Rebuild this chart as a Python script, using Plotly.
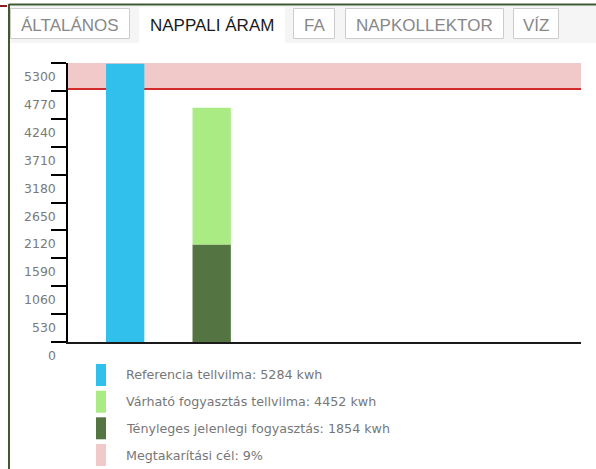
import plotly.graph_objects as go

# ---------------- data ----------------
tabs = ["ÁLTALÁNOS", "NAPPALI ÁRAM", "FA", "NAPKOLLEKTOR", "VÍZ"]
active_tab = "NAPPALI ÁRAM"
categories = ["Referencia", "Tényleges"]
reference_kwh = [5284, None]
actual_kwh = [None, 1854]
expected_kwh = [None, 4452]
savings_pct = 9
y_max = 5300
y_ticks = [0, 530, 1060, 1590, 2120, 2650, 3180, 3710, 4240, 4770, 5300]
legend_labels = [
    f"Referencia tellvilma: {reference_kwh[0]} kwh",
    f"Várható fogyasztás tellvilma: {expected_kwh[1]} kwh",
    f"Tényleges jelenlegi fogyasztás: {actual_kwh[1]} kwh",
    f"Megtakarítási cél: {savings_pct}%",
]

# ---------------- styles ----------------
C_BLUE = "#31c0ec"
C_LIGHT = "#aaeb84"
C_DARK = "#547541"
C_PINK = "#f2c9c9"
C_RED = "#d42a2a"
legend_colors = [C_BLUE, C_LIGHT, C_DARK, C_PINK]
TXT_FONT = "DejaVu Sans, Verdana"

W, H = 596, 469
L, R, T, B = 68, 15, 63, 127
PW, PH = W - L - R, H - T - B


def px(x):
    return (x - L) / PW


def py(y):
    return (H - B - y) / PH


target = reference_kwh[0] * (1 - savings_pct / 100)

fig = go.Figure()
fig.add_trace(go.Bar(x=categories, y=reference_kwh, marker_color=C_BLUE,
                     width=0.443, marker_line_width=0, showlegend=False))
fig.add_trace(go.Bar(x=categories, y=actual_kwh, marker_color=C_DARK,
                     width=0.443, marker_line_width=0, showlegend=False))
fig.add_trace(go.Bar(x=categories,
                     y=[None, expected_kwh[1] - actual_kwh[1]],
                     base=[None, actual_kwh[1]], marker_color=C_LIGHT,
                     width=0.443, marker_line_width=0, showlegend=False))

shapes = []
annotations = []

# savings target band + line
shapes.append(dict(type="rect", xref="paper", yref="y", x0=0, x1=1,
                   y0=target, y1=y_max, fillcolor=C_PINK, line_width=0,
                   layer="below"))
shapes.append(dict(type="line", xref="paper", yref="y", x0=0, x1=1,
                   y0=target, y1=target, line=dict(color=C_RED, width=2),
                   layer="below"))

# tab strip
shapes.append(dict(type="rect", xref="paper", yref="paper",
                   x0=px(10), x1=px(W + 5), y0=py(5.5), y1=py(43),
                   fillcolor="#f5f5f5", line_width=0))
tab_boxes = [(10, 130), (139, 285), (293, 335), (345, 504), (513, 559)]
for name, (x0, x1) in zip(tabs, tab_boxes):
    if name == active_tab:
        shapes.append(dict(type="rect", xref="paper", yref="paper",
                           x0=px(x0), x1=px(x1), y0=py(7), y1=py(43),
                           fillcolor="white", line_width=0))
        col = "#1a1a1a"
    else:
        shapes.append(dict(type="rect", xref="paper", yref="paper",
                           x0=px(x0 + 0.5), x1=px(x1 - 0.5), y0=py(8.5), y1=py(38.5),
                           fillcolor="white", line=dict(color="#cccccc", width=1)))
        col = "#888888"
    annotations.append(dict(text=name, xref="paper", yref="paper",
                            x=px((x0 + x1) / 2), y=py(25), xanchor="center",
                            yanchor="middle", showarrow=False,
                            font=dict(family="Liberation Sans, Arial", size=17,
                                      color=col)))

# frame
shapes.append(dict(type="line", xref="paper", yref="paper",
                   x0=px(9), x1=px(W + 5), y0=py(4.5), y1=py(4.5),
                   line=dict(color="#3f5a33", width=2)))
shapes.append(dict(type="line", xref="paper", yref="paper",
                   x0=px(9), x1=px(9), y0=py(4), y1=py(H + 5),
                   line=dict(color="#3f5a33", width=2)))
shapes.append(dict(type="line", xref="paper", yref="paper",
                   x0=px(0), x1=px(7), y0=py(6), y1=py(6),
                   line=dict(color="#8b1e1e", width=2)))

# y tick labels (drawn half a step below their ticks)
for v in y_ticks:
    annotations.append(dict(text=str(v), xref="paper", yref="y", x=px(58),
                            y=v, yshift=-13.5, xanchor="right", yanchor="middle",
                            showarrow=False,
                            font=dict(family=TXT_FONT, size=12.5,
                                      color="#7a7a7a")))

# legend
row_centers = [375, 401.7, 428.3, 455]
for lab, col, yc in zip(legend_labels, legend_colors, row_centers):
    shapes.append(dict(type="rect", xref="paper", yref="paper",
                       x0=px(96), x1=px(106), y0=py(yc - 11), y1=py(yc + 11),
                       fillcolor=col, line_width=0))
    annotations.append(dict(text=lab, xref="paper", yref="paper", x=px(124),
                            y=py(yc), xanchor="left", yanchor="middle",
                            showarrow=False,
                            font=dict(family=TXT_FONT, size=12.7,
                                      color="#777777")))

fig.update_layout(
    width=W, height=H,
    margin=dict(l=L, r=R, t=T, b=B, pad=0),
    paper_bgcolor="white", plot_bgcolor="white",
    barmode="overlay",
    showlegend=False,
    shapes=shapes,
    annotations=annotations,
    xaxis=dict(type="category", range=[-0.661, 5.27], showgrid=False,
               zeroline=False, showticklabels=False, ticks="",
               showline=True, linecolor="#1a1a1a", linewidth=2,
               fixedrange=True),
    yaxis=dict(range=[0, y_max], tickvals=y_ticks, showticklabels=False,
               ticks="outside", ticklen=15, tickwidth=2, tickcolor="black",
               showline=True, linecolor="black", linewidth=2,
               showgrid=False, zeroline=False, fixedrange=True),
)

fig.write_html("out.html", config={"displayModeBar": False},
               post_script="document.body.style.margin='0';")
